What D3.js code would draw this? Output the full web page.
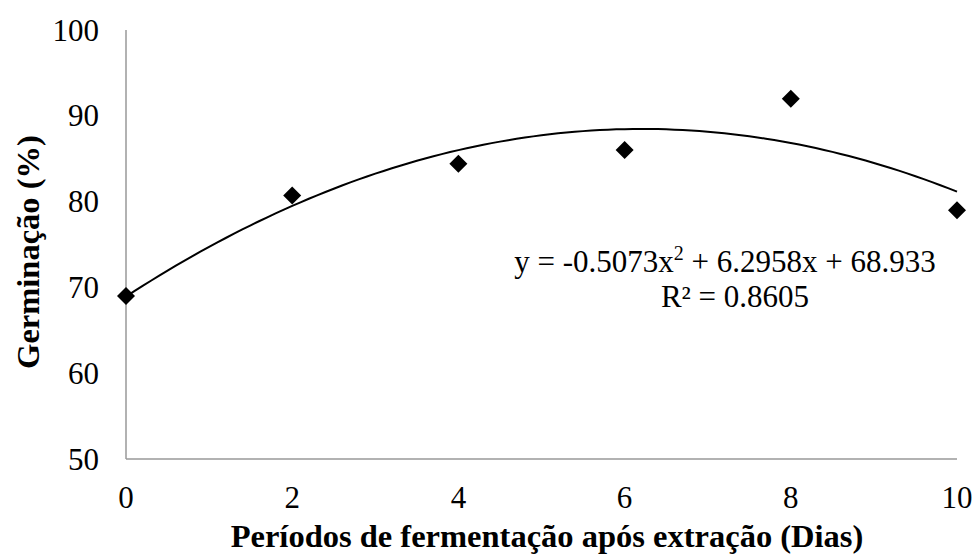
<!DOCTYPE html>
<html>
<head>
<meta charset="utf-8">
<script src="https://d3js.org/d3.v7.min.js"></script>
<style>
  body { margin: 0; background: #fff; }
</style>
</head>
<body>
<svg id="chart" width="975" height="556"></svg>
<script>
// data
var dias = [0, 2, 4, 6, 8, 10];
var germinacao = [69.0, 80.7, 84.4, 86.0, 92.0, 79.0];
var xTicks = [0, 2, 4, 6, 8, 10];
var yTicks = [50, 60, 70, 80, 90, 100];
// trendline coefficients as printed on the chart (a, b, c)
var coef = [-0.5073, 6.2958, 68.933];

var FONT = "'Liberation Serif'";

var svg = d3.select("#chart");
var x = d3.scaleLinear().domain([0, 10]).range([126, 957]);
var y = d3.scaleLinear().domain([50, 100]).range([459, 30]);

// axes (plain grey lines, no tick marks)
svg.append("line")
  .attr("x1", x(0)).attr("x2", x(0))
  .attr("y1", y(100)).attr("y2", y(50))
  .attr("stroke", "#999").attr("stroke-width", 1.5);
svg.append("line")
  .attr("x1", x(0)).attr("x2", x(10))
  .attr("y1", y(50)).attr("y2", y(50))
  .attr("stroke", "#999").attr("stroke-width", 1.5);

svg.selectAll(".ytick").data(yTicks).enter().append("text")
  .attr("x", 99).attr("y", d => y(d))
  .attr("dy", "0.34em")
  .attr("text-anchor", "end")
  .style("font-family", FONT)
  .style("font-size", "31px")
  .text(d => d);

svg.selectAll(".xtick").data(xTicks).enter().append("text")
  .attr("x", d => x(d)).attr("y", 508)
  .attr("text-anchor", "middle")
  .style("font-family", FONT)
  .style("font-size", "31px")
  .text(d => d);

// trendline
var curve = d3.range(0, 10.01, 0.1).map(t => [t, coef[0] * t * t + coef[1] * t + coef[2]]);
svg.append("path")
  .datum(curve)
  .attr("fill", "none")
  .attr("stroke", "#000")
  .attr("stroke-width", 2)
  .attr("d", d3.line().x(d => x(d[0])).y(d => y(d[1])));

// markers
svg.selectAll(".pt").data(dias).enter().append("path")
  .attr("transform", (d, i) => "translate(" + x(d) + "," + y(germinacao[i]) + ")")
  .attr("d", "M0,-9L9,0L0,9L-9,0Z")
  .attr("fill", "#000");

// equation
var eq = svg.append("text")
  .attr("x", 725).attr("y", 272)
  .attr("text-anchor", "middle")
  .style("font-family", FONT)
  .style("font-size", "31px");
eq.append("tspan").text("y = -0.5073x");
eq.append("tspan").attr("dy", -12).style("font-size", "20px").text("2");
eq.append("tspan").attr("dy", 12).text(" + 6.2958x + 68.933");

svg.append("text")
  .attr("x", 735).attr("y", 307)
  .attr("text-anchor", "middle")
  .style("font-family", FONT)
  .style("font-size", "31px")
  .text("R² = 0.8605");

// axis titles
svg.append("text")
  .attr("x", 547).attr("y", 547)
  .attr("text-anchor", "middle")
  .style("font-family", FONT)
  .style("font-size", "32.5px").style("font-weight", "bold")
  .text("Períodos de fermentação após extração (Dias)");

svg.append("text")
  .attr("transform", "translate(39,252) rotate(-90)")
  .attr("text-anchor", "middle")
  .style("font-family", FONT)
  .style("font-size", "32.5px").style("font-weight", "bold")
  .text("Germinação (%)");
</script>
</body>
</html>
